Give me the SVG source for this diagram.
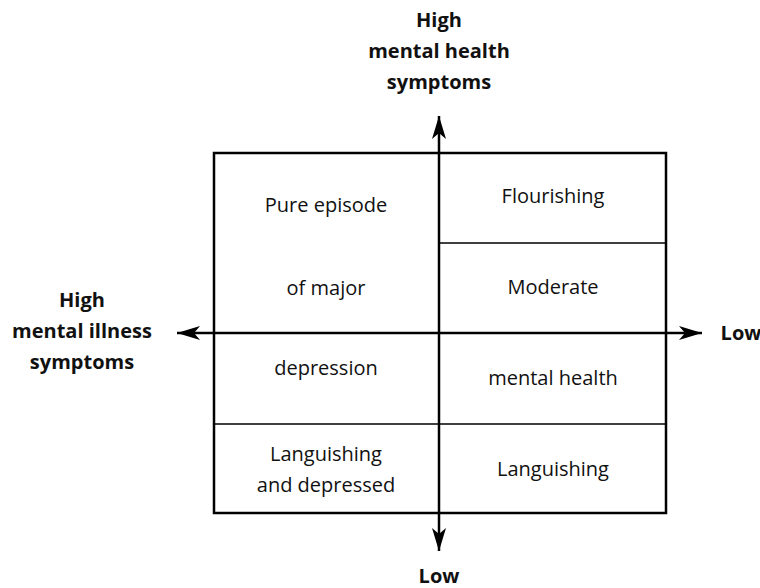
<svg xmlns="http://www.w3.org/2000/svg" width="760" height="588" viewBox="0 0 760 588">
<style>
.t{font-family:"Open Sans","Liberation Sans",sans-serif;font-size:20px;fill:#111;text-anchor:middle}
.b{font-weight:bold}
.frame{fill:none;stroke:#000;stroke-width:2.5}
.div{stroke:#000;stroke-width:1.3}
.axis{stroke:#000;stroke-width:2.5;fill:none}
</style>
<defs>
<marker id="ah" markerUnits="userSpaceOnUse" markerWidth="26" markerHeight="16" viewBox="-24 -8 26 16" refX="0" refY="0" orient="auto">
<path d="M0,0 L-23,-7 L-17,0 L-23,7 Z" fill="#000"/>
</marker>
</defs>
<g id="grid">
<rect class="frame" x="214" y="153" width="452" height="360"/>
<line class="div" x1="439" y1="243" x2="666" y2="243"/>
<line class="div" x1="214" y1="424" x2="666" y2="424"/>
</g>
<g id="connectors">
<line class="axis" x1="439" y1="333" x2="439" y2="116" marker-end="url(#ah)"/>
<line class="axis" x1="439" y1="333" x2="439" y2="551" marker-end="url(#ah)"/>
<line class="axis" x1="439" y1="333" x2="177" y2="333" marker-end="url(#ah)"/>
<line class="axis" x1="439" y1="333" x2="702" y2="333" marker-end="url(#ah)"/>
</g>
<g id="node-top">
<text class="t b" x="439" y="27">High</text>
<text class="t b" x="439" y="58">mental health</text>
<text class="t b" x="439" y="89">symptoms</text>
</g>
<g id="node-left">
<text class="t b" x="82" y="307">High</text>
<text class="t b" x="82" y="338">mental illness</text>
<text class="t b" x="82" y="369">symptoms</text>
</g>
<g id="node-right">
<text class="t b" x="741" y="340">Low</text>
</g>
<g id="node-bottom">
<text class="t b" x="439" y="583">Low</text>
</g>
<g id="node-pure">
<text class="t" x="326" y="212">Pure episode</text>
<text class="t" x="326" y="295">of major</text>
<text class="t" x="326" y="375">depression</text>
</g>
<g id="node-lang-dep">
<text class="t" x="326" y="461">Languishing</text>
<text class="t" x="326" y="492">and depressed</text>
</g>
<g id="node-flourishing">
<text class="t" x="553" y="203">Flourishing</text>
</g>
<g id="node-moderate">
<text class="t" x="553" y="294">Moderate</text>
<text class="t" x="553" y="385">mental health</text>
</g>
<g id="node-languishing">
<text class="t" x="553" y="476">Languishing</text>
</g>
</svg>
